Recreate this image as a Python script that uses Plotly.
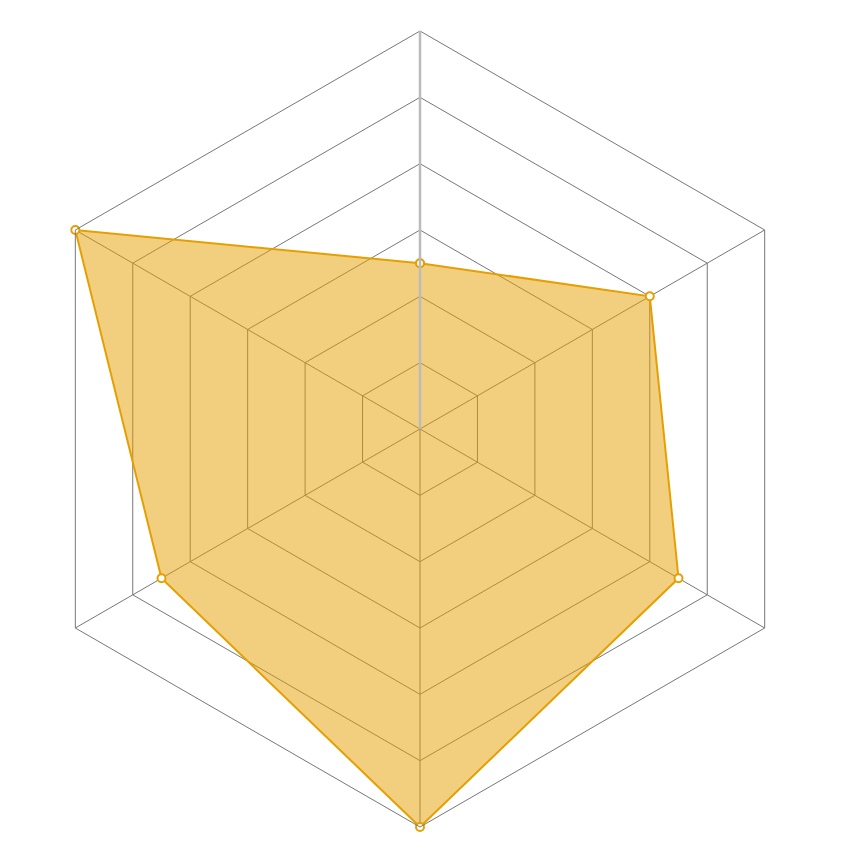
import plotly.graph_objects as go

categories = ["A", "B", "C", "D", "E", "F"]
values = [2.5, 4, 4.5, 6, 4.5, 6]

r_closed = values + values[:1]
theta_closed = categories + categories[:1]

fig = go.Figure()
fig.add_trace(go.Scatterpolar(
    r=r_closed,
    theta=theta_closed,
    mode="lines+markers",
    fill="toself",
    fillcolor="rgba(230,159,0,0.5)",
    line=dict(color="#E69F00", width=2),
    marker=dict(symbol="circle", size=8, color="white",
                line=dict(color="#E69F00", width=2)),
    showlegend=False,
))

fig.update_layout(
    width=860, height=860,
    margin=dict(l=14, r=50, t=23, b=41),
    paper_bgcolor="white",
    polar=dict(
        bgcolor="white",
        gridshape="linear",
        radialaxis=dict(
            range=[0, 6], dtick=1, showticklabels=False, ticks="",
            angle=90, showline=True, linecolor="#bbbbbb", linewidth=2.5,
            gridcolor="#777777", gridwidth=1,
        ),
        angularaxis=dict(
            rotation=90, direction="clockwise",
            showticklabels=False, ticks="",
            showline=True, linecolor="#777777", linewidth=1,
            gridcolor="#777777", gridwidth=1,
        ),
    ),
)

fig.write_html("out.html")
